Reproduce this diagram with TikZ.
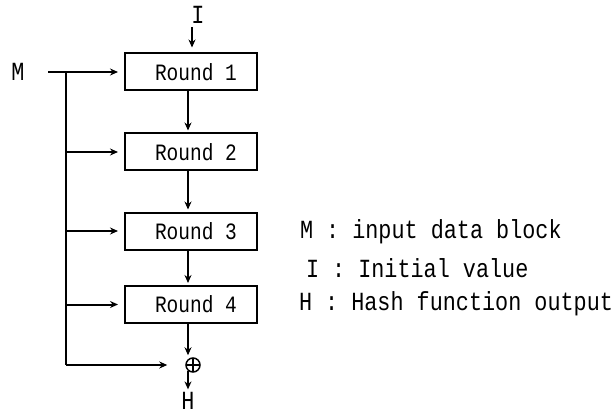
\documentclass[tikz,border=0pt]{standalone}
\usepackage{fontspec}
\setmainfont{Liberation Mono}
\usetikzlibrary{arrows.meta}
\begin{document}
\begin{tikzpicture}[x=1pt,y=-1pt,
  line width=2pt,
  lbl/.style={font=\fontsize{21.8}{22}\selectfont, inner sep=0pt},
  roundbox/.style={draw, minimum width=132pt, minimum height=37pt, inner sep=0pt,
    font=\fontsize{19.5}{20}\selectfont},
  arr/.style={-{Stealth[length=8pt,width=7pt]}},
  xorsym/.style={circle, draw, line width=1.5pt, minimum size=14pt, inner sep=0pt,
    path picture={\draw[line width=1.5pt] (path picture bounding box.north) -- (path picture bounding box.south)
      (path picture bounding box.west) -- (path picture bounding box.east);}}]
\useasboundingbox (0,0) rectangle (615,414);

% the four round boxes
\node[roundbox] (r1) at (191,72)    {\hspace{10pt}\scalebox{1}[1.2]{Round 1}};
\node[roundbox] (r2) at (191,152)   {\hspace{10pt}\scalebox{1}[1.2]{Round 2}};
\node[roundbox] (r3) at (191,231)   {\hspace{10pt}\scalebox{1}[1.2]{Round 3}};
\node[roundbox] (r4) at (191,304.5) {\hspace{10pt}\scalebox{1}[1.2]{Round 4}};

% inputs and output
\node[lbl] (iv) at (198,15) {\scalebox{1}[1.2]{I}};
\node[lbl] (m)  at (18,72)  {\scalebox{1}[1.2]{M}};
\node[xorsym] (xor) at (193,365) {};
\node[lbl] (h)  at (188,401) {\scalebox{1}[1.2]{H}};

% message bus
\coordinate (mstart) at (48,72);
\coordinate (bus1) at (66,72);
\coordinate (bus2) at (66,152);
\coordinate (bus3) at (66,231);
\coordinate (bus4) at (66,304.5);
\coordinate (bus5) at (66,365);
\coordinate (ivtop) at (192,27);

\draw[arr, shorten >=6pt] (mstart) -- (r1.west);
\draw (bus1) -- (bus5);
\draw[arr, shorten >=6pt] (bus2) -- (r2.west);
\draw[arr, shorten >=6pt] (bus3) -- (r3.west);
\draw[arr, shorten >=6pt] (bus4) -- (r4.west);
\draw[arr, shorten >=18pt] (bus5) -- (xor.west);

% chaining value path
\draw[arr, shorten >=5pt] (ivtop) -- (ivtop |- r1.north);
\draw[arr, shorten >=2pt] ([xshift=-3pt]r1.south) -- ([xshift=-3pt]r2.north);
\draw[arr, shorten >=2pt] ([xshift=-3pt]r2.south) -- ([xshift=-3pt]r3.north);
\draw[arr, shorten >=2pt] ([xshift=-3pt]r3.south) -- ([xshift=-3pt]r4.north);
\draw[arr, shorten >=1pt] ([xshift=-3pt]r4.south) -- ([xshift=-5pt,yshift=1pt]xor.north);
\draw[arr] ([xshift=-5pt,yshift=2pt]xor.south) -- ([yshift=2pt]h.north);

% legend
\node[lbl, anchor=west] (lm) at (299,232) {\scalebox{1}[1.2]{M : input data block}};
\node[lbl, anchor=west] (li) at (305,268) {\scalebox{1}[1.2]{I : Initial value}};
\node[lbl, anchor=west] (lh) at (298,304) {\scalebox{1}[1.2]{H : Hash function output}};
\end{tikzpicture}
\end{document}
